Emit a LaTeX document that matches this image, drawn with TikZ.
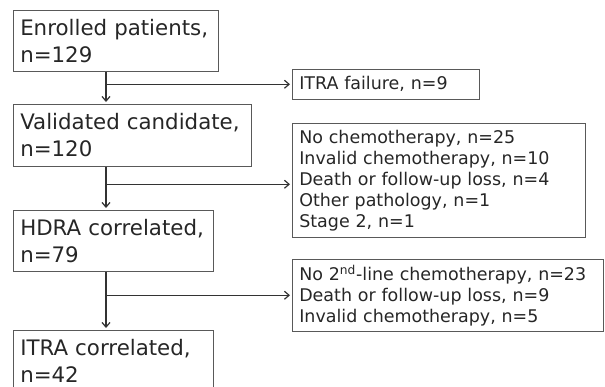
\documentclass[tikz,border=0pt]{standalone}
\usepackage{fontspec}
\setmainfont{DejaVu Sans}
\usetikzlibrary{arrows.meta}
\newcommand{\nohyph}{\hyphenpenalty=10000\relax}

\tikzset{
  stage/.style={draw=black!65, anchor=north west, align=left, inner xsep=5.25pt, inner ysep=0pt,
    font={\fontsize{16}{20.25}\selectfont\nohyph}, text=black!85},
  excl/.style={stage, font={\fontsize{13.1}{15.75}\selectfont\nohyph}},
  flow/.style={-{Straight Barb[length=3.5pt,width=6pt]}, black!80, line width=0.9pt, shorten >=1.5pt}
}

\begin{document}
\begin{tikzpicture}[x=0.75pt,y=-0.75pt]
  \useasboundingbox (0,0) rectangle (605,386);
  \node[stage, text width=143.25pt, minimum height=45.75pt] (enrol) at (13,10) {Enrolled patients,\\ n=129};
  \node[stage, text width=168pt,    minimum height=46.5pt]  (valid) at (13,104) {Validated candidate,\\ n=120};
  \node[stage, text width=139.5pt,  minimum height=45.75pt] (hdra)  at (13,210) {HDRA correlated,\\ n=79};
  \node[stage, text width=139.5pt,  minimum height=45.75pt] (itra)  at (13,330) {ITRA correlated,\\ n=42};

  \node[excl, text width=129.75pt, minimum height=22.5pt] (fail) at (292,69) {ITRA failure, n=9};
  \node[excl, text width=209.25pt, minimum height=85.5pt] (out1) at (292,123)
    {No chemotherapy, n=25\\ Invalid chemotherapy, n=10\\ Death or follow-up loss, n=4\\ Other pathology, n=1\\ Stage 2, n=1};
  \node[excl, text width=222.75pt, minimum height=54pt] (out2) at (292,259)
    {No 2\textsuperscript{nd}-line chemotherapy, n=23\\ Death or follow-up loss, n=9\\ Invalid chemotherapy, n=5};

  \coordinate (trunk) at (106,0);
  \draw[flow] (enrol.south -| trunk) -- (valid.north -| trunk);
  \draw[flow] (valid.south -| trunk) -- (hdra.north -| trunk);
  \draw[flow] (hdra.south -| trunk) -- (itra.north -| trunk);
  \draw[flow] (fail.west -| trunk) -- (fail.west);
  \draw[flow] ([yshift=-3pt]out1.west -| trunk) -- ([yshift=-3pt]out1.west);
  \draw[flow] (out2.west -| trunk) -- (out2.west);
\end{tikzpicture}
\end{document}
